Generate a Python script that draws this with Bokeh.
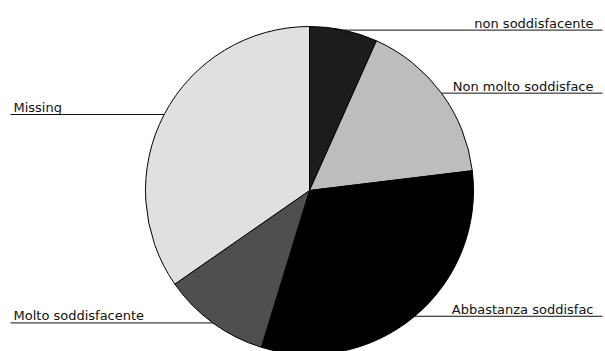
import math

from bokeh.core.properties import value
from bokeh.embed import file_html
from bokeh.models import ColumnDataSource, Range1d
from bokeh.plotting import figure
from bokeh.resources import INLINE

# Satisfaction survey answers, clockwise from twelve o'clock (percent of responses)
labels = [
    "non soddisfacente",
    "Non molto soddisface",
    "Abbastanza soddisfac",
    "Molto soddisfacente",
    "Missing",
]
shares = [6.7, 16.4, 31.7, 10.6, 34.7]
fills = ["#1c1c1c", "#bdbdbd", "#000000", "#4f4f4f", "#e0e0e0"]

W, H = 605, 351
cx, cy, r = 309, H - 190, 164

total = sum(shares)
starts, ends, mids = [], [], []
acc = 0.0
for s in shares:
    a0 = acc / total * 2 * math.pi
    acc += s
    a1 = acc / total * 2 * math.pi
    # clockwise from the top -> bokeh's anticlockwise-from-east angles
    starts.append(math.pi / 2 - a1)
    ends.append(math.pi / 2 - a0)
    mids.append(math.pi / 2 - (a0 + a1) / 2)

p = figure(
    width=W, height=H,
    x_range=Range1d(0, W), y_range=Range1d(0, H),
    output_backend="svg", toolbar_location=None,
    min_border=0,
)
p.axis.visible = False
p.grid.visible = False
p.outline_line_color = None
p.background_fill_color = "white"
p.border_fill_color = "white"

src = ColumnDataSource(dict(start=starts, end=ends, color=fills))
p.wedge(x=cx, y=cy, radius=r, start_angle="start", end_angle="end",
        fill_color="color", line_color="black", line_width=1, source=src)

# leader lines from each slice's middle to its label
font = value("DejaVu Sans")
for lab, m in zip(labels, mids):
    ex = cx + r * math.cos(m)
    ey = cy + r * math.sin(m)
    right = math.cos(m) >= 0
    x_end = W - 3 if right else 10
    p.line([ex, x_end], [ey, ey], line_color="#111111", line_width=1)
    p.text(
        x=[W - 12 if right else 13], y=[ey + 7], text=[lab],
        text_font=font, text_font_size="13px", text_color="#111111",
        text_align="right" if right else "left", text_baseline="alphabetic",
    )

open("out.html", "w").write(file_html(p, INLINE))
